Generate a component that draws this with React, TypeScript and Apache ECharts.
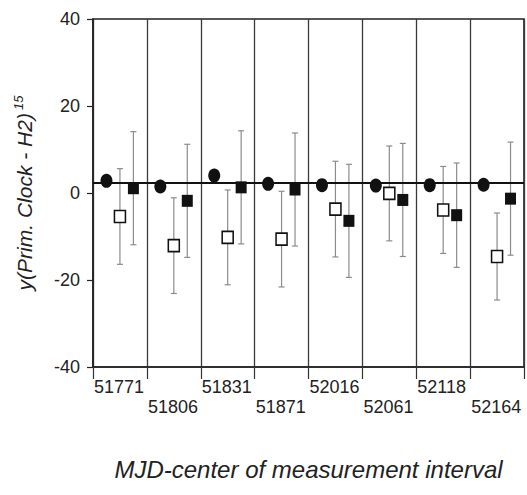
import React, { useEffect, useRef } from 'react';
import * as echarts from 'echarts';

// ---- data ----
const mjdLabels = ['51771', '51806', '51831', '51871', '52016', '52061', '52118', '52164'];
const circleValues = [2.8, 1.5, 4.0, 2.1, 1.8, 1.7, 1.8, 1.9];
const openSquareValues = [-5.4, -12.1, -10.2, -10.6, -3.7, -0.1, -3.9, -14.6];
const openSquareErrors = [11, 11, 10.9, 11, 11, 10.9, 10, 10];
const filledSquareValues = [1.1, -1.8, 1.3, 0.8, -6.4, -1.6, -5.1, -1.3];
const filledSquareErrors = [13, 13, 13, 13, 13, 13, 12, 13];
const referenceLevel = [2.4];
const yMin = -40;
const yMax = 40;
const yStep = 20;

// ---- layout (positions within each interval) ----
const CIRCLE_POS = 0.25;
const OPEN_POS = 0.5;
const FILLED_POS = 0.75;

const FONT = '"Liberation Sans", Arial, sans-serif';

export default function App() {
  const ref = useRef<HTMLDivElement>(null);

  useEffect(() => {
    if (!ref.current) return;
    const chart = echarts.init(ref.current, undefined, { renderer: 'svg' });

    const circleData = circleValues.map((v, i) => [i + CIRCLE_POS, v]);
    const openData = openSquareValues.map((v, i) => [i + OPEN_POS, v]);
    const filledData = filledSquareValues.map((v, i) => [i + FILLED_POS, v]);
    const openErrData = openSquareValues.map((v, i) => [i + OPEN_POS, v - openSquareErrors[i], v + openSquareErrors[i]]);
    const filledErrData = filledSquareValues.map((v, i) => [i + FILLED_POS, v - filledSquareErrors[i], v + filledSquareErrors[i]]);

    const errorRender = (params: any, api: any) => {
      const x = api.value(0);
      const lo = api.coord([x, api.value(1)]);
      const hi = api.coord([x, api.value(2)]);
      const cap = 3;
      const style = { stroke: '#8c8c8c', lineWidth: 1.2 };
      return {
        type: 'group',
        children: [
          { type: 'line', shape: { x1: lo[0], y1: lo[1], x2: hi[0], y2: hi[1] }, style },
          { type: 'line', shape: { x1: hi[0] - cap, y1: hi[1], x2: hi[0] + cap, y2: hi[1] }, style },
          { type: 'line', shape: { x1: lo[0] - cap, y1: lo[1], x2: lo[0] + cap, y2: lo[1] }, style },
        ],
      };
    };

    chart.setOption({
      animation: false,
      backgroundColor: '#ffffff',
      textStyle: { fontFamily: FONT },
      grid: {
        left: 93,
        right: -3,
        top: 19,
        bottom: 128,
        show: true,
        borderColor: '#222',
        borderWidth: 1.6,
        backgroundColor: 'transparent',
      },
      xAxis: {
        type: 'value',
        min: 0,
        max: mjdLabels.length,
        interval: 1,
        name: 'MJD-center of measurement interval',
        nameLocation: 'middle',
        nameGap: 90,
        nameTextStyle: { fontSize: 24, fontStyle: 'italic', color: '#222', fontFamily: FONT },
        axisLine: { show: true, onZero: false, lineStyle: { color: '#222', width: 1.6 } },
        axisTick: { show: true, length: 12, lineStyle: { color: '#333', width: 1.2 } },
        splitLine: { show: true, lineStyle: { color: '#3a3a3a', width: 1.3 } },
        axisLabel: {
          show: true,
          margin: 11,
          align: 'left',
          showMaxLabel: true,
          formatter: (v: number) => {
            const idx = Math.round(v);
            if (idx < 0 || idx >= mjdLabels.length) return '';
            return idx % 2 === 0 ? `{hi|${mjdLabels[idx]}}` : `{lo|${mjdLabels[idx]}}`;
          },
          rich: {
            hi: { fontSize: 18, lineHeight: 18, color: '#222', fontFamily: FONT, padding: [0, 0, 0, 1] },
            lo: { fontSize: 18, lineHeight: 18, color: '#222', fontFamily: FONT, padding: [40, 0, 0, 1] },
          },
        },
      },
      yAxis: {
        type: 'value',
        min: yMin,
        max: yMax,
        interval: yStep,
        name: '{t|y(Prim. Clock - H2)}{s|15}',
        nameLocation: 'middle',
        nameRotate: 90,
        nameGap: 57,
        nameTextStyle: {
          rich: {
            t: { fontSize: 21, fontStyle: 'italic', color: '#222', fontFamily: FONT, lineHeight: 24 },
            s: { fontSize: 13, fontStyle: 'italic', color: '#222', fontFamily: FONT, verticalAlign: 'top', padding: [0, 0, 0, 3] },
          },
        },
        axisLine: { show: true, lineStyle: { color: '#222', width: 1.6 } },
        axisTick: { show: true, length: 6, lineStyle: { color: '#222', width: 1.2 } },
        splitLine: { show: false },
        axisLabel: { fontSize: 18, color: '#222', margin: 13, fontFamily: FONT },
      },
      series: [
        {
          type: 'custom',
          name: 'open err',
          renderItem: errorRender,
          data: openErrData,
          encode: { x: 0, y: [1, 2] },
          z: 1,
          silent: true,
        },
        {
          type: 'custom',
          name: 'filled err',
          renderItem: errorRender,
          data: filledErrData,
          encode: { x: 0, y: [1, 2] },
          z: 1,
          silent: true,
        },
        {
          type: 'scatter',
          name: 'reference',
          data: [],
          z: 2,
          markLine: {
            silent: true,
            symbol: 'none',
            label: { show: false },
            lineStyle: { color: '#111', width: 2, type: 'solid' },
            data: referenceLevel.map((v) => ({ yAxis: v })),
          },
        },
        {
          type: 'scatter',
          name: 'circles',
          data: circleData,
          symbol: 'circle',
          symbolSize: [12, 14],
          itemStyle: { color: '#111', opacity: 1 },
          z: 4,
        },
        {
          type: 'scatter',
          name: 'open squares',
          data: openData,
          symbol: 'rect',
          symbolSize: [11, 12],
          itemStyle: { color: '#ffffff', borderColor: '#111', borderWidth: 1.6, opacity: 1 },
          z: 4,
        },
        {
          type: 'scatter',
          name: 'filled squares',
          data: filledData,
          symbol: 'rect',
          symbolSize: [11, 12],
          itemStyle: { color: '#111', opacity: 1 },
          z: 4,
        },
      ],
    });

    return () => chart.dispose();
  }, []);

  return (
    <div
      ref={ref}
      style={{ position: 'absolute', left: 0, top: 0, width: 527, height: 495, overflow: 'hidden' }}
    />
  );
}
